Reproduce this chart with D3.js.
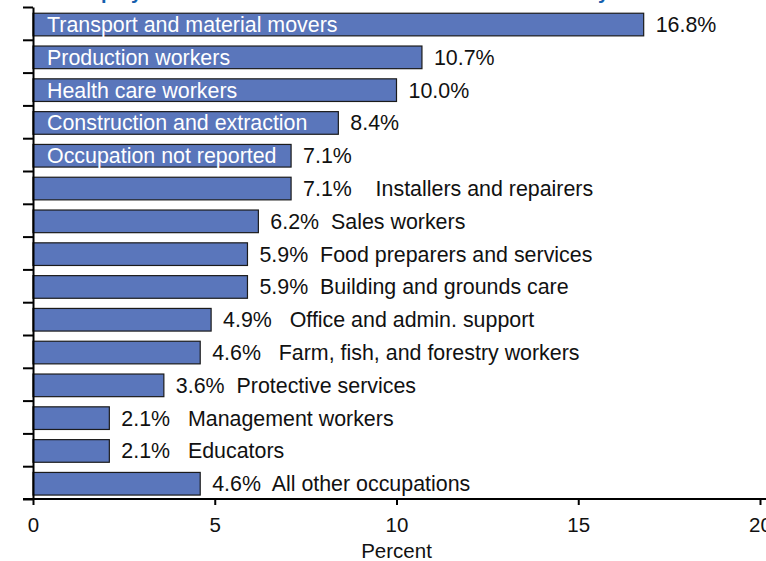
<!DOCTYPE html>
<html>
<head>
<meta charset="utf-8">
<script src="https://cdn.jsdelivr.net/npm/d3@7/dist/d3.min.js"></script>
<style>
  html, body { margin: 0; padding: 0; background: #fff; }
  svg { display: block; }
  text { font-family: "Liberation Sans", Arial, sans-serif; }
</style>
</head>
<body>
<svg id="chart" width="766" height="561"></svg>
<script>
const title = "Employment in the health and social assistance industry";
const categories = [
  "Transport and material movers",
  "Production workers",
  "Health care workers",
  "Construction and extraction",
  "Occupation not reported",
  "Installers and repairers",
  "Sales workers",
  "Food preparers and services",
  "Building and grounds care",
  "Office and admin. support",
  "Farm, fish, and forestry workers",
  "Protective services",
  "Management workers",
  "Educators",
  "All other occupations"
];
const values = [16.8, 10.7, 10.0, 8.4, 7.1, 7.1, 6.2, 5.9, 5.9, 4.9, 4.6, 3.6, 2.1, 2.1, 4.6];
const nameInside = [true, true, true, true, true, false, false, false, false, false, false, false, false, false, false];
const nameGap = [0, 0, 0, 0, 0, 4, 2, 2, 2, 3, 3, 2, 3, 3, 2];
const xTicks = [0, 5, 10, 15, 20];
const xLabel = "Percent";

const svg = d3.select("#chart");
const FS = 21.4;

const x = d3.scaleLinear().domain([0, 20]).range([33, 760]);
const y = d3.scaleBand().domain(categories).range([7, 499]).padding(0);
const yIdx = d3.scaleLinear().domain([0, categories.length]).range([7, 499]);
const step = y.step();

// title (cut off at top, as in the reference)
svg.append("text")
  .attr("x", 70).attr("y", -1)
  .attr("fill", "#1560ad")
  .attr("font-weight", "bold")
  .attr("font-size", 20)
  .text(title);

const data = categories.map((c, i) => ({ c, v: values[i], inside: nameInside[i], gap: nameGap[i] }));

// bars
svg.append("g").selectAll("rect").data(data).join("rect")
  .attr("x", x(0))
  .attr("y", d => y(d.c) + step * 0.19)
  .attr("width", d => x(d.v) - x(0))
  .attr("height", step * 0.69)
  .attr("fill", "#5a76bb")
  .attr("stroke", "#1b1b1b")
  .attr("stroke-width", 1.2);

const cy = d => y(d.c) + step * 0.19 + step * 0.345;

// inside labels
svg.append("g").selectAll("text").data(data.filter(d => d.inside)).join("text")
  .attr("x", x(0) + 14)
  .attr("y", d => cy(d))
  .attr("dy", "0.35em")
  .attr("fill", "#fff")
  .attr("font-size", FS)
  .text(d => d.c);

// outside labels
svg.append("g").selectAll("text").data(data).join("text")
  .attr("x", d => x(d.v) + 12)
  .attr("y", d => cy(d))
  .attr("dy", "0.35em")
  .attr("fill", "#111")
  .attr("font-size", FS)
  .style("white-space", "pre")
  .text(d => d.v.toFixed(1) + "%" + (d.inside ? "" : " ".repeat(d.gap) + d.c));

// left axis
const yAxis = d3.axisLeft(yIdx)
  .tickValues(d3.range(categories.length + 1))
  .tickFormat("")
  .tickSize(10)
  .tickSizeOuter(0);
const gy = svg.append("g").attr("transform", `translate(${x(0)},0)`).call(yAxis);
gy.select(".domain").attr("stroke", "#000").attr("stroke-width", 2);
gy.selectAll(".tick line").attr("stroke", "#000").attr("stroke-width", 2);

// bottom axis
const xAxis = d3.axisBottom(x).tickValues(xTicks).tickSize(6).tickSizeOuter(0).tickPadding(12);
const gx = svg.append("g").attr("transform", `translate(0,499)`).call(xAxis);
gx.select(".domain").remove();
gx.selectAll(".tick line").attr("stroke", "#000").attr("stroke-width", 2);
gx.selectAll(".tick text").attr("font-size", 20.5).attr("fill", "#111")
  .style("font-family", '"Liberation Sans", Arial, sans-serif');
gx.append("line").attr("x1", 23).attr("x2", 766).attr("y1", 0).attr("y2", 0)
  .attr("stroke", "#000").attr("stroke-width", 2);

svg.append("text")
  .attr("x", (x(0) + x(20)) / 2)
  .attr("y", 558)
  .attr("text-anchor", "middle")
  .attr("font-size", 20.5)
  .attr("fill", "#111")
  .text(xLabel);
</script>
</body>
</html>
